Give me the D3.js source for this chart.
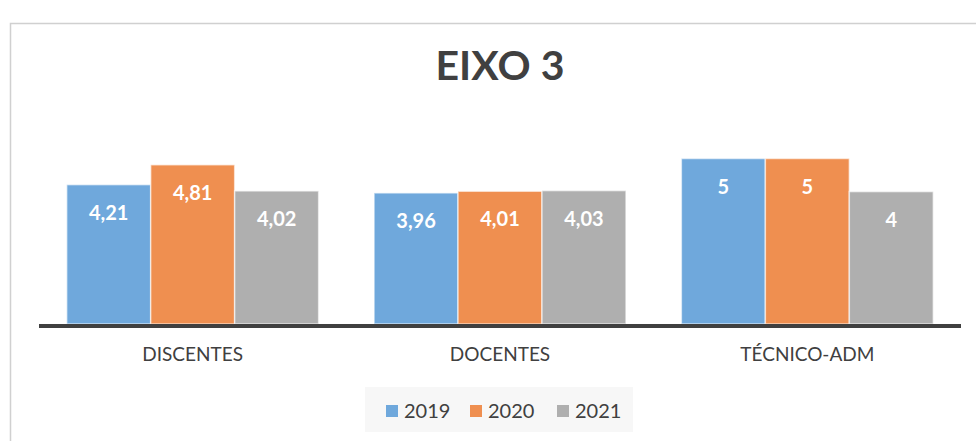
<!DOCTYPE html>
<html>
<head>
<meta charset="utf-8">
<style>
  body { margin: 0; background: #fff; }
  svg text { font-family: Lato, "Open Sans", sans-serif; }
</style>
<script src="https://cdn.jsdelivr.net/npm/d3@7"></script>
</head>
<body>
<svg id="chart" width="976" height="441"></svg>
<script>
// data
var categories = ["DISCENTES", "DOCENTES", "TÉCNICO-ADM"];
var years = ["2019", "2020", "2021"];
var values2019 = [4.21, 3.96, 5];
var values2020 = [4.81, 4.01, 5];
var values2021 = [4.02, 4.03, 4];
var colors = ["#6FA8DC", "#EF8F50", "#AFAFAF"];

var series = [values2019, values2020, values2021];

var svg = d3.select("#chart");

// outer chart border (runs off the right/bottom)
svg.append("rect")
    .attr("x", 10.5).attr("y", 23.5)
    .attr("width", 1000).attr("height", 500)
    .attr("fill", "none")
    .attr("stroke", "#d0d0d0")
    .attr("stroke-width", 1.5);

svg.append("text")
    .attr("x", 500).attr("y", 80)
    .attr("text-anchor", "middle")
    .attr("font-size", 41)
    .attr("font-weight", "bold")
    .attr("fill", "#404040")
    .text("EIXO 3");

var x0 = d3.scaleBand().domain(categories).range([39, 961]).paddingInner(0).paddingOuter(0);
var x1 = d3.scaleBand().domain(years).range([0, x0.bandwidth()]).paddingInner(0).paddingOuter(0.33);
var y = d3.scaleLinear().domain([0, 6]).range([324, 125.4]);

var groups = svg.selectAll("g.cat")
    .data(categories)
  .enter().append("g")
    .attr("class", "cat")
    .attr("transform", function(d) { return "translate(" + x0(d) + ",0)"; });

groups.each(function(cat, ci) {
    var g = d3.select(this);
    var rows = years.map(function(yr, si) { return { year: yr, v: series[si][ci], c: colors[si] }; });

    g.selectAll("rect")
        .data(rows)
      .enter().append("rect")
        .attr("x", function(d) { return x1(d.year); })
        .attr("y", function(d) { return y(d.v); })
        .attr("width", x1.bandwidth())
        .attr("height", function(d) { return y(0) - y(d.v); })
        .attr("fill", function(d) { return d.c; })
        .attr("stroke", "#ffffff")
        .attr("stroke-opacity", 0.6)
        .attr("stroke-width", 1.5);

    g.selectAll("text.val")
        .data(rows)
      .enter().append("text")
        .attr("class", "val")
        .attr("x", function(d) { return x1(d.year) + x1.bandwidth() / 2; })
        .attr("y", function(d) { return y(d.v) + 35; })
        .attr("text-anchor", "middle")
        .attr("font-size", 20)
        .attr("font-weight", "bold")
        .attr("fill", "#ffffff")
        .text(function(d) { return String(d.v).replace(".", ","); });
});

// baseline axis
var xAxis = d3.axisBottom(x0).tickSize(0).tickPadding(24);
var ax = svg.append("g")
    .attr("transform", "translate(0," + y(0) + ")")
    .call(xAxis);
ax.select(".domain").attr("stroke", "#404040").attr("stroke-width", 4)
    .attr("d", "M39,2H961");
ax.selectAll("text")
    .attr("font-size", 19)
    .attr("fill", "#404040")
    .style("font-family", "Lato, 'Open Sans', sans-serif");

// legend
var legend = svg.append("g");
legend.append("rect")
    .attr("x", 365).attr("y", 387)
    .attr("width", 268).attr("height", 45)
    .attr("fill", "#f7f7f7");

var legX = [386, 470, 557];
var items = legend.selectAll("g.item")
    .data(years)
  .enter().append("g")
    .attr("class", "item")
    .attr("transform", function(d, i) { return "translate(" + legX[i] + ",405)"; });
items.append("rect")
    .attr("width", 12).attr("height", 12)
    .attr("fill", function(d, i) { return colors[i]; });
items.append("text")
    .attr("x", 18).attr("y", 13)
    .attr("font-size", 20)
    .attr("fill", "#404040")
    .text(function(d) { return d; });
</script>
</body>
</html>
